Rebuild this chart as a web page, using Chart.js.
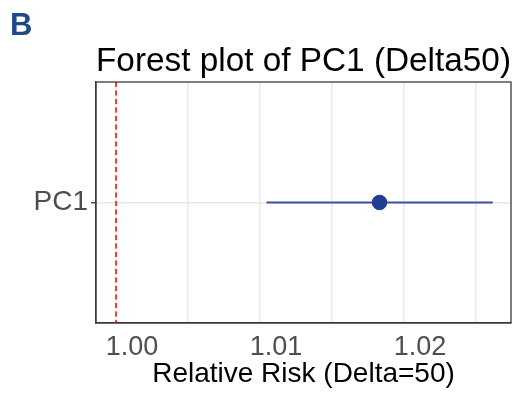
<!DOCTYPE html>
<html>
<head>
<meta charset="utf-8">
<script src="https://cdn.jsdelivr.net/npm/chart.js@4.4.1/dist/chart.umd.min.js"></script>
<style>
  html, body { margin: 0; padding: 0; background: #fff; }
  #wrap { position: relative; width: 520px; height: 395px; }
  #panelTag {
    position: absolute; left: 10px; top: 9px;
    font: bold 31px/31px "Liberation Sans", Arial, sans-serif;
    color: #1c4a85;
  }
</style>
</head>
<body>
<div id="wrap">
  <canvas id="forestChart" width="520" height="395"></canvas>
  <div id="panelTag">B</div>
</div>
<script>
// Values
const categories = ['PC1'];
const estimates = [1.0183];
const lowerCI = [1.01045];
const upperCI = [1.02616];
const refValue = 1.0;

// X axis ticks (minor lines between the labelled ones)
const xTicks = [1.000, 1.005, 1.010, 1.015, 1.020, 1.025];
const xTickLabels = ['1.00', '', '1.01', '', '1.02', ''];
const xMin = 0.99861;
const xMax = 1.02743;

Chart.defaults.font.family = '"Liberation Sans", Arial, sans-serif';

// Dashed reference line and the panel box
const panelDecor = {
    id: 'panelDecor',
    beforeDatasetsDraw(chart) {
        const { ctx, chartArea: a, scales: { x } } = chart;
        const px = x.getPixelForValue(refValue);
        ctx.save();
        ctx.strokeStyle = '#ff0000';
        ctx.lineWidth = 1.5;
        ctx.setLineDash([5, 3.5]);
        ctx.beginPath();
        ctx.moveTo(px, a.top);
        ctx.lineTo(px, a.bottom);
        ctx.stroke();
        ctx.restore();
    },
    afterDraw(chart) {
        const { ctx, chartArea: a } = chart;
        ctx.save();
        ctx.strokeStyle = '#3a3a3a';
        ctx.lineWidth = 1.3;
        ctx.strokeRect(a.left, a.top, a.right - a.left, a.bottom - a.top);
        ctx.restore();
    }
};

// one line per CI, then the point estimates on top
const ciSets = categories.map((c, i) => ({
    data: [{ x: lowerCI[i], y: c }, { x: upperCI[i], y: c }],
    borderColor: '#3d4fa3',
    borderWidth: 2.2,
    pointRadius: 0,
    order: 2
}));

const pointSet = {
    data: categories.map((c, i) => ({ x: estimates[i], y: c })),
    showLine: false,
    pointRadius: 7.3,
    pointBackgroundColor: '#213e92',
    pointBorderColor: '#213e92',
    order: 1
};

const ctx = document.getElementById('forestChart').getContext('2d');
new Chart(ctx, {
    type: 'line',
    data: { datasets: [...ciSets, pointSet] },
    options: {
        responsive: false,
        animation: false,
        layout: { padding: { right: 9, bottom: 0, top: 0, left: 0 } },
        plugins: {
            legend: { display: false },
            tooltip: { enabled: false },
            title: {
                display: true,
                text: 'Forest plot of PC1 (Delta50)',
                align: 'start',
                fullSize: false,
                color: '#000',
                font: { size: 33.6, weight: 'normal' },
                padding: { top: 41.5, bottom: 0.18 }
            }
        },
        scales: {
            x: {
                type: 'linear',
                min: xMin,
                max: xMax,
                afterBuildTicks: s => { s.ticks = xTicks.map(v => ({ value: v })); },
                afterFit: s => { s.height = 72; },
                grid: { color: '#e8e8e8', lineWidth: 1.5, drawTicks: false },
                border: { display: true, color: '#3a3a3a', width: 1.3 },
                ticks: {
                    autoSkip: false,
                    maxRotation: 0,
                    padding: 8,
                    labelOffset: 16,
                    color: '#4d4d4d',
                    font: { size: 27 },
                    callback: (v, i) => xTickLabels[i]
                },
                title: {
                    display: true,
                    text: 'Relative Risk (Delta=50)',
                    color: '#000',
                    font: { size: 28 },
                    padding: { top: 0, bottom: 4 }
                }
            },
            y: {
                type: 'category',
                labels: categories,
                offset: true,
                afterFit: s => { s.width = 96; },
                grid: {
                    offset: false,
                    color: '#e8e8e8',
                    lineWidth: 1.5,
                    tickColor: '#3a3a3a',
                    tickLength: 5,
                    tickWidth: 1.3
                },
                border: { display: true, color: '#3a3a3a', width: 1.3 },
                ticks: { color: '#4d4d4d', font: { size: 28 }, padding: 3 }
            }
        }
    },
    plugins: [panelDecor]
});
</script>
</body>
</html>
